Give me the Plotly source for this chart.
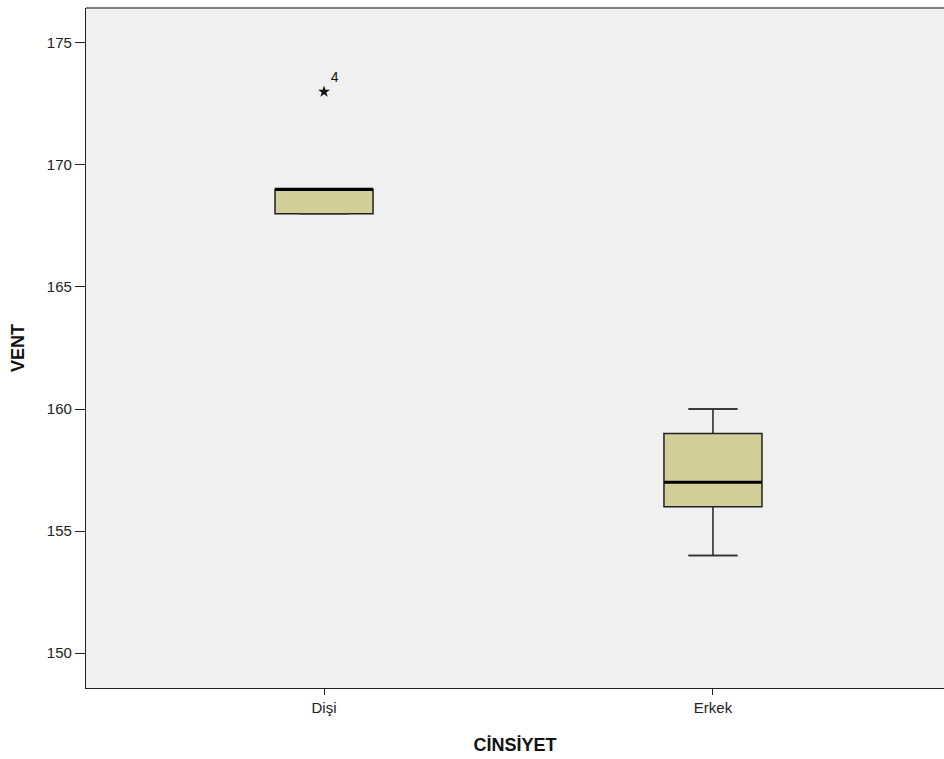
import plotly.graph_objects as go

categories = ["Dişi", "Erkek"]
q1 = [168, 156]
median = [169, 157]
q3 = [169, 159]
lower_whisker = [168, 154]
upper_whisker = [169, 160]
outlier_cat = [0]
outlier_val = [173]
outlier_label = ["4"]

y_ticks = [150, 155, 160, 165, 170, 175]

box_w = 0.252
fill = "#D3CF98"
fig = go.Figure()

for i, c in enumerate(categories):
    fig.add_trace(go.Box(
        x=[i], q1=[q1[i]], median=[median[i]], q3=[q3[i]],
        lowerfence=[lower_whisker[i]], upperfence=[upper_whisker[i]],
        width=box_w, whiskerwidth=0.5, fillcolor=fill,
        line=dict(color="#222222", width=1.5), boxpoints=False,
        showlegend=False, hoverinfo="skip",
    ))
    # whisker caps
    for v in (lower_whisker[i], upper_whisker[i]):
        fig.add_trace(go.Scatter(
            x=[i - box_w / 4, i + box_w / 4], y=[v, v],
            mode="lines", line=dict(color="#333333", width=1.6),
            showlegend=False, hoverinfo="skip",
        ))
    fig.add_trace(go.Scatter(
        x=[i - box_w / 2, i + box_w / 2], y=[median[i], median[i]],
        mode="lines", line=dict(color="black", width=3.2),
        showlegend=False, hoverinfo="skip",
    ))

fig.add_trace(go.Scatter(
    x=outlier_cat, y=outlier_val, mode="markers+text",
    marker=dict(symbol="star", size=9, color="#111111"),
    text=outlier_label, textposition="top right",
    textfont=dict(family="Liberation Sans, Arial", size=14, color="#111111"),
    showlegend=False, hoverinfo="skip",
))

fig.update_layout(
    width=944, height=759,
    margin=dict(l=86, r=0, t=8, b=71),
    paper_bgcolor="white", plot_bgcolor="#F0F0F0",
    font=dict(family="Liberation Sans, Arial", color="#222222"),
    shapes=[dict(type="line", xref="paper", yref="paper", x0=0, x1=1, y0=1, y1=1,
                 line=dict(color="#808080", width=2))],
)
fig.update_xaxes(
    range=[-0.612, 1.594], tickmode="array", tickvals=list(range(len(categories))),
    ticktext=categories, ticks="outside", ticklen=6, tickcolor="#222222",
    showline=True, linecolor="#222222", linewidth=1.3, showgrid=False, zeroline=False,
    tickfont=dict(size=15),
    title=dict(text="<b>CİNSİYET</b>", font=dict(size=18, color="#111111"), standoff=23),
)
fig.update_yaxes(
    range=[148.57, 176.43], tickmode="array", tickvals=y_ticks,
    ticks="outside", ticklen=10, tickcolor="#222222", tickwidth=1.3,
    showline=True, linecolor="#222222", linewidth=1.3, showgrid=False, zeroline=False,
    tickfont=dict(size=15),
    title=dict(text="<b>VENT</b>", font=dict(size=18, color="#111111"), standoff=17),
)

fig.write_html(
    "out.html",
    config={"displayModeBar": False},
    post_script="document.body.style.margin='0';document.body.style.overflow='hidden';",
)
